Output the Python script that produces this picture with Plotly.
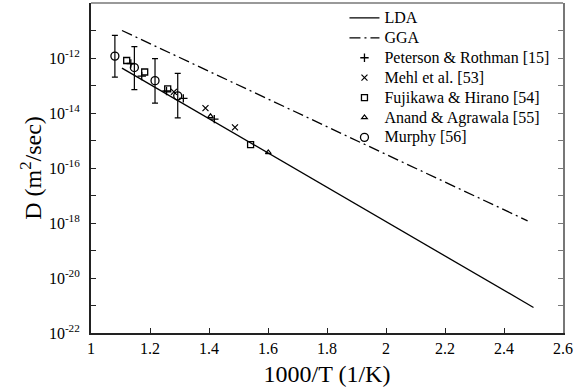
import plotly.graph_objects as go

# ---- data ----
lda_T = [1.105, 2.5]
lda_D = [4.3e-13, 8.5e-22]
gga_T = [1.105, 2.48]
gga_D = [1.0e-11, 1.2e-18]

peterson_T = [1.135, 1.172, 1.256, 1.313, 1.418]
peterson_D = [6.3e-13, 2.2e-13, 6.3e-14, 3.4e-14, 6.0e-15]

mehl_T = [1.281, 1.388, 1.488]
mehl_D = [5.9e-14, 1.5e-14, 3.0e-15]

fujikawa_T = [1.121, 1.182, 1.260, 1.541]
fujikawa_D = [8.1e-13, 3.1e-13, 7.6e-14, 7.1e-16]

anand_T = [1.405, 1.601]
anand_D = [7.6e-15, 3.7e-16]

murphy_T = [1.081, 1.147, 1.217, 1.294]
murphy_D = [1.17e-12, 4.5e-13, 1.5e-13, 4.2e-14]
murphy_hi = [6.6e-12, 2.6e-12, 9.5e-13, 2.75e-13]
murphy_lo = [2.0e-13, 7.1e-14, 2.3e-14, 6.6e-15]

x_ticks = [1, 1.2, 1.4, 1.6, 1.8, 2, 2.2, 2.4, 2.6]
x_labels = ["1", "1.2", "1.4", "1.6", "1.8", "2", "2.2", "2.4", "2.6"]
y_exps = list(range(-22, -10))
y_labels = [f"10<sup>{e}</sup>" if e % 2 == 0 else "" for e in y_exps]

FONT = "Liberation Serif"

def nm(s):
    return f'<span style="font-size:16px">{s}</span>'

fig = go.Figure()
fig.add_trace(go.Scatter(x=lda_T, y=lda_D, mode="lines", name=nm("LDA"),
                         line=dict(color="black", width=1.3)))
fig.add_trace(go.Scatter(x=gga_T, y=gga_D, mode="lines", name=nm("GGA"),
                         line=dict(color="black", width=1.3, dash="11px,4px,2px,4px")))
fig.add_trace(go.Scatter(x=peterson_T, y=peterson_D, mode="markers", name=nm("Peterson &amp; Rothman [15]"),
                         marker=dict(symbol="cross-thin", size=6, color="black",
                                     line=dict(color="black", width=1.3))))
fig.add_trace(go.Scatter(x=mehl_T, y=mehl_D, mode="markers", name=nm("Mehl et al. [53]"),
                         marker=dict(symbol="x-thin", size=6, color="black",
                                     line=dict(color="black", width=1.2))))
fig.add_trace(go.Scatter(x=fujikawa_T, y=fujikawa_D, mode="markers", name=nm("Fujikawa &amp; Hirano [54]"),
                         marker=dict(symbol="square-open", size=6, color="black",
                                     line=dict(color="black", width=1.3))))
fig.add_trace(go.Scatter(x=anand_T, y=anand_D, mode="markers", name=nm("Anand &amp; Agrawala [55]"),
                         marker=dict(symbol="triangle-up-open", size=5, color="black",
                                     line=dict(color="black", width=1.2))))
fig.add_trace(go.Scatter(
    x=murphy_T, y=murphy_D, mode="markers", name=nm("Murphy [56]"),
    marker=dict(symbol="circle-open", size=8, color="black", line=dict(color="black", width=1.3)),
    error_y=dict(type="data", symmetric=False,
                 array=[h - d for h, d in zip(murphy_hi, murphy_D)],
                 arrayminus=[d - l for d, l in zip(murphy_D, murphy_lo)],
                 color="black", thickness=1.2, width=3)))
# invisible helper trace so the right-hand axis is drawn
fig.add_trace(go.Scatter(x=[], y=[], yaxis="y2", showlegend=False, hoverinfo="skip"))

fig.update_layout(
    width=587, height=392,
    margin=dict(l=91, r=24, t=3, b=59, autoexpand=False),
    paper_bgcolor="white", plot_bgcolor="white",
    font=dict(family=FONT, color="black", size=16),
    showlegend=True,
    legend=dict(x=0.537, y=1.0, xanchor="left", yanchor="top",
                font=dict(family=FONT, size=13, color="black"),
                itemwidth=30, bgcolor="rgba(0,0,0,0)", tracegroupgap=0),
    xaxis=dict(range=[1, 2.6], tickvals=x_ticks, ticktext=x_labels, automargin=False,
               ticks="inside", ticklen=5, tickwidth=1.3, tickcolor="#222",
               showline=True, linecolor="#222", linewidth=2, mirror=False,
               showgrid=False, zeroline=False,
               tickfont=dict(family=FONT, size=16),
               title=dict(text="1000/T (1/K)", font=dict(family=FONT, size=24), standoff=9)),
    yaxis=dict(type="log", range=[-22, -10], tickvals=[10.0 ** e for e in y_exps], ticktext=y_labels,
               automargin=False,
               ticks="inside", ticklen=5, tickwidth=1.3, tickcolor="#222",
               showline=True, linecolor="#222", linewidth=2,
               showgrid=False, zeroline=False,
               tickfont=dict(family=FONT, size=16), ticklabelstandoff=6,
               title=dict(text="D (m<sup>2</sup>/sec)", font=dict(family=FONT, size=24), standoff=0)),
    yaxis2=dict(type="log", range=[-22, -10], overlaying="y", side="right", anchor="x",
                automargin=False,
                tickvals=[10.0 ** e for e in y_exps], showticklabels=False,
                ticks="inside", ticklen=5, tickwidth=1.3, tickcolor="#777",
                showline=True, linecolor="#777", linewidth=1.5, showgrid=False, zeroline=False),
    shapes=[dict(type="line", xref="paper", yref="paper", x0=0, x1=1, y0=1, y1=1,
                 line=dict(color="#777", width=1.5))],
)

fig.write_html("out.html", config={"displayModeBar": False},
               post_script="document.body.style.margin='0px';")
